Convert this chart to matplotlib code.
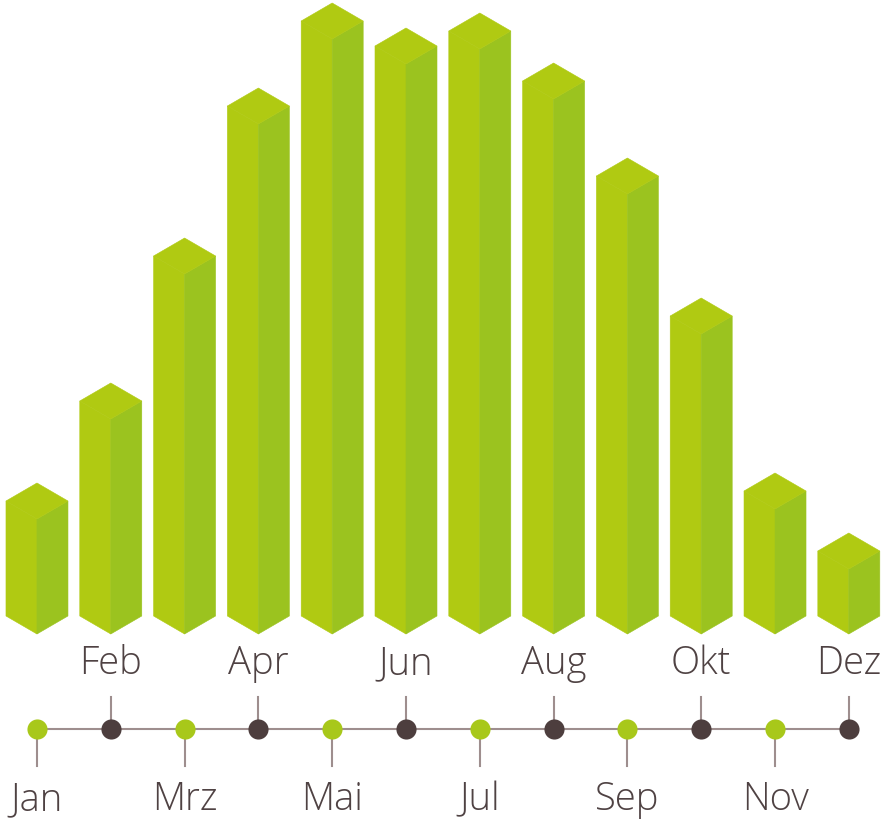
import numpy as np
import matplotlib
matplotlib.use("Agg")
import matplotlib.pyplot as plt
from matplotlib.patches import Polygon

months = ["Jan", "Feb", "Mrz", "Apr", "Mai", "Jun",
          "Jul", "Aug", "Sep", "Okt", "Nov", "Dez"]
values = [23, 43, 72, 102, 119, 114, 117, 107, 88, 60, 25, 13]

LEFT_FACE = "#b0ca12"
RIGHT_FACE = "#9bc31f"
DOT_GREEN = "#a8c81a"
DOT_DARK = "#4d3e3e"
LINE_COL = "#9e8e8e"
TEXT_COL = "#4f4243"

plt.rcParams["font.family"] = ["Open Sans", "DejaVu Sans"]

fig = plt.figure(figsize=(8.9, 8.25), dpi=100)

# bars: isometric prisms
ax = fig.add_axes([0, 185 / 825, 1, 640 / 825])
ax.set_xlim(-0.501, 11.558)
ax.set_ylim(-1.2, 126.8)
ax.axis("off")

w = 0.42   # half width of a prism (x units)
d = 3.6    # vertical rise of the side corners (y units)
for i, v in enumerate(values):
    c = i
    left = [(c, 0), (c - w, d), (c - w, d + v), (c, v)]
    right = [(c, 0), (c + w, d), (c + w, d + v), (c, v)]
    top = [(c, v), (c - w, v + d), (c, v + 2 * d), (c + w, v + d)]
    for pts, col in ((left, LEFT_FACE), (right, RIGHT_FACE), (top, LEFT_FACE)):
        ax.add_patch(Polygon(pts, closed=True, facecolor=col, edgecolor=col,
                             linewidth=0.4))

# timeline
ax2 = fig.add_axes([0, 0, 1, 185 / 825])
ax2.set_xlim(-0.501, 11.558)
ax2.set_ylim(185, 0)
ax2.axis("off")

x = np.arange(len(months))
ax2.plot([x[0], x[-1]], [89, 89], color=LINE_COL, lw=1.5, zorder=1)
for i, m in enumerate(months):
    if i % 2 == 0:
        ax2.plot([i, i], [89, 126], color=LINE_COL, lw=1.5, zorder=1)
        ax2.scatter([i], [89], s=210, color=DOT_GREEN, zorder=3, linewidths=0)
        ax2.text(i, 160, m, ha="center", va="center", fontsize=27.5,
                 color=TEXT_COL, fontweight="light")
    else:
        ax2.plot([i, i], [57, 89], color=LINE_COL, lw=1.5, zorder=1)
        ax2.scatter([i], [89], s=210, color=DOT_DARK, zorder=3, linewidths=0)
        ax2.text(i, 24, m, ha="center", va="center", fontsize=27.5,
                 color=TEXT_COL, fontweight="light")

fig.savefig("out.png", dpi=100, facecolor="white")
